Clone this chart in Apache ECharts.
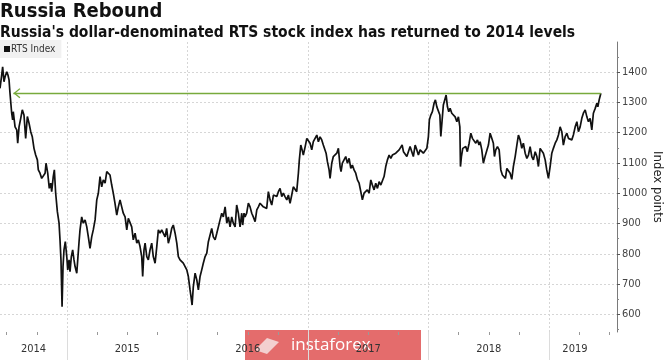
<!DOCTYPE html>
<html><head><meta charset="utf-8">
<script src="https://cdn.jsdelivr.net/npm/echarts@6/dist/echarts.min.js"></script>
<style>html,body{margin:0;padding:0;background:#fff}#c{width:665px;height:360px}</style>
</head><body><div id="c"></div>
<script>
// RTS Index, [decimal year, index points]
const rts2014 = [[2014.444,1346],[2014.458,1390],[2014.466,1417],[2014.477,1368],[2014.486,1384],[2014.500,1401],[2014.510,1390],[2014.519,1374],[2014.527,1330],[2014.541,1264],[2014.549,1242],[2014.554,1269],[2014.569,1219],[2014.583,1209],[2014.591,1165],[2014.602,1219],[2014.616,1247],[2014.629,1275],[2014.643,1258],[2014.657,1181],[2014.671,1253],[2014.685,1231],[2014.699,1203],[2014.712,1186],[2014.726,1148],[2014.740,1126],[2014.754,1110],[2014.762,1077],[2014.776,1066],[2014.790,1049],[2014.803,1044],[2014.818,1066],[2014.826,1099],[2014.840,1066],[2014.853,1016],[2014.865,1033],[2014.873,1005],[2014.886,1055],[2014.895,1077],[2014.906,1000],[2014.920,939],[2014.934,901],[2014.942,846],[2014.950,780],[2014.959,625],[2014.967,758],[2014.975,813],[2014.986,840],[2014.998,791]];
const rts2015 = [[2015.006,747],[2015.017,780],[2015.025,741],[2015.036,791],[2015.047,813],[2015.058,780],[2015.067,758],[2015.081,736],[2015.089,780],[2015.100,840],[2015.108,879],[2015.122,922],[2015.135,901],[2015.150,912],[2015.164,889],[2015.177,856],[2015.191,818],[2015.205,856],[2015.218,879],[2015.233,912],[2015.247,978],[2015.260,1000],[2015.274,1055],[2015.288,1021],[2015.301,1044],[2015.316,1033],[2015.330,1071],[2015.343,1077],[2015.357,1060],[2015.371,1027],[2015.384,1000],[2015.398,967],[2015.413,928],[2015.426,955],[2015.440,978],[2015.454,955],[2015.467,934],[2015.482,922],[2015.496,879],[2015.509,917],[2015.523,912],[2015.537,889],[2015.550,846],[2015.565,868],[2015.579,835],[2015.592,846],[2015.606,824],[2015.620,791],[2015.628,725],[2015.639,813],[2015.648,835],[2015.662,791],[2015.675,780],[2015.689,813],[2015.703,835],[2015.716,791],[2015.731,769],[2015.745,824],[2015.758,879],[2015.772,868],[2015.786,879],[2015.799,868],[2015.814,856],[2015.827,884],[2015.841,835],[2015.855,856],[2015.869,884],[2015.882,895],[2015.897,868],[2015.911,835],[2015.924,791],[2015.938,780],[2015.952,785],[2015.965,769],[2015.980,758],[2015.994,747]];
const rts2016 = [[2016.007,725],[2016.021,681],[2016.029,659],[2016.038,631],[2016.048,691],[2016.063,736],[2016.077,714],[2016.090,681],[2016.104,725],[2016.118,747],[2016.131,769],[2016.146,791],[2016.160,802],[2016.173,840],[2016.187,846],[2016.201,884],[2016.214,856],[2016.229,846],[2016.243,868],[2016.256,889],[2016.270,912],[2016.284,934],[2016.297,922],[2016.312,955],[2016.326,901],[2016.339,922],[2016.353,889],[2016.367,922],[2016.380,901],[2016.395,889],[2016.408,961],[2016.422,934],[2016.436,889],[2016.450,934],[2016.458,895],[2016.469,934],[2016.477,922],[2016.491,934],[2016.505,967],[2016.519,955],[2016.533,934],[2016.546,922],[2016.561,906],[2016.575,945],[2016.588,955],[2016.602,967],[2016.616,972],[2016.629,955],[2016.644,961],[2016.657,950],[2016.671,1005],[2016.685,978],[2016.699,961],[2016.713,994],[2016.727,1000],[2016.741,989],[2016.754,1005],[2016.768,1016],[2016.782,989],[2016.795,1000],[2016.809,989],[2016.824,978],[2016.837,994],[2016.851,967],[2016.865,994],[2016.878,1021],[2016.893,1027],[2016.906,1005],[2016.920,1066],[2016.928,1110],[2016.940,1159],[2016.951,1143],[2016.961,1126],[2016.976,1153],[2016.990,1181]];
const rts2017 = [[2017.003,1176],[2017.017,1165],[2017.031,1143],[2017.044,1170],[2017.059,1165],[2017.073,1192],[2017.086,1170],[2017.100,1186],[2017.114,1176],[2017.127,1159],[2017.142,1153],[2017.150,1132],[2017.161,1104],[2017.175,1077],[2017.183,1049],[2017.197,1099],[2017.210,1121],[2017.225,1115],[2017.239,1132],[2017.252,1148],[2017.266,1088],[2017.274,1071],[2017.285,1099],[2017.299,1110],[2017.313,1121],[2017.327,1099],[2017.341,1115],[2017.355,1082],[2017.368,1093],[2017.382,1077],[2017.396,1066],[2017.410,1044],[2017.424,1033],[2017.438,1005],[2017.451,978],[2017.465,1000],[2017.479,994],[2017.492,1011],[2017.507,1000],[2017.521,1044],[2017.534,1027],[2017.548,1011],[2017.562,1033],[2017.576,1016],[2017.590,1038],[2017.604,1027],[2017.617,1033],[2017.631,1055],[2017.645,1088],[2017.659,1110],[2017.673,1126],[2017.687,1115],[2017.700,1126],[2017.714,1121],[2017.728,1132],[2017.742,1137],[2017.756,1143],[2017.770,1148],[2017.781,1159],[2017.792,1137],[2017.806,1132],[2017.820,1121],[2017.833,1115],[2017.847,1154],[2017.861,1137],[2017.874,1121],[2017.889,1159],[2017.903,1143],[2017.916,1126],[2017.930,1143],[2017.944,1148],[2017.957,1132],[2017.972,1126],[2017.986,1148],[2017.999,1187]];
const rts2018 = [[2018.007,1242],[2018.019,1258],[2018.032,1269],[2018.046,1297],[2018.057,1308],[2018.069,1285],[2018.082,1291],[2018.094,1258],[2018.102,1187],[2018.113,1242],[2018.123,1291],[2018.137,1297],[2018.146,1324],[2018.157,1285],[2018.168,1269],[2018.179,1280],[2018.193,1264],[2018.206,1269],[2018.221,1252],[2018.235,1236],[2018.248,1252],[2018.260,1219],[2018.265,1088],[2018.273,1121],[2018.284,1148],[2018.295,1143],[2018.309,1154],[2018.322,1137],[2018.337,1165],[2018.351,1198],[2018.364,1181],[2018.378,1176],[2018.392,1165],[2018.406,1176],[2018.419,1159],[2018.428,1170],[2018.442,1143],[2018.455,1099],[2018.469,1121],[2018.484,1126],[2018.497,1159],[2018.511,1198],[2018.525,1181],[2018.538,1165],[2018.547,1121],[2018.558,1143],[2018.572,1154],[2018.586,1143],[2018.600,1077],[2018.613,1060],[2018.627,1066],[2018.638,1049],[2018.650,1082],[2018.663,1088],[2018.677,1066],[2018.691,1046],[2018.704,1088],[2018.719,1121],[2018.733,1159],[2018.746,1192],[2018.760,1176],[2018.774,1148],[2018.787,1165],[2018.802,1132],[2018.816,1115],[2018.829,1126],[2018.843,1154],[2018.857,1121],[2018.870,1110],[2018.885,1137],[2018.899,1121],[2018.912,1088],[2018.926,1148],[2018.940,1154],[2018.953,1132],[2018.968,1110],[2018.981,1077],[2018.995,1049]];
const rts2019 = [[2019.009,1088],[2019.023,1132],[2019.036,1148],[2019.051,1165],[2019.065,1176],[2019.078,1192],[2019.092,1219],[2019.106,1203],[2019.119,1159],[2019.134,1187],[2019.148,1198],[2019.161,1181],[2019.175,1187],[2019.189,1176],[2019.202,1192],[2019.217,1219],[2019.231,1236],[2019.244,1203],[2019.258,1219],[2019.272,1247],[2019.285,1264],[2019.300,1275],[2019.314,1252],[2019.327,1236],[2019.341,1247],[2019.355,1209],[2019.368,1264],[2019.383,1280],[2019.397,1297],[2019.405,1285],[2019.416,1308],[2019.430,1330]];

const yTickValues = [600, 700, 800, 900, 1000, 1100, 1200, 1300, 1400];
const yMinorValues = [550, 650, 750, 850, 950, 1050, 1150, 1250, 1350, 1450];
const yearLabels = [2014, 2015, 2016, 2017, 2018, 2019];
const yearStarts = [2015, 2016, 2017, 2018, 2019];
const quarterMarks = [2014.5, 2014.75, 2015.25, 2015.5, 2015.75, 2016.25, 2016.5, 2016.75, 2017.25, 2017.5, 2017.75, 2018.25, 2018.5, 2018.75, 2019.25, 2019.5];
const xMin = 2014.444, xMax = 2019.564;
const yMin = 542, yMax = 1499;
const arrowFrom = 2014.555;

const rts = [].concat(rts2014, rts2015, rts2016, rts2017, rts2018, rts2019);
const last = rts[rts.length - 1];
const labelPos = yearLabels.map(y => (Math.max(y, xMin) + Math.min(y + 1, last[0])) / 2);

const FONT = '"DejaVu Sans Condensed", "DejaVu Sans", sans-serif';
const chevron = 'path://M0,0 M14,0 M7,7 L12,13.1 L11.1,14 L7,9.1 L2.9,14 L2,13.1 Z';

const chart = echarts.init(document.getElementById('c'), null, {renderer: 'canvas'});
chart.setOption({
  animation: false,
  backgroundColor: '#fff',
  title: [
    {text: 'Russia Rebound', left: 0, top: 2, padding: 0,
     textStyle: {fontFamily: FONT, fontWeight: 'bold', fontSize: 20, color: '#111'}},
    {text: "Russia's dollar-denominated RTS stock index has returned to 2014 levels", left: 0, top: 25, padding: 0,
     textStyle: {fontFamily: FONT, fontWeight: 'bold', fontSize: 15.5, color: '#111'}}
  ],
  legend: {
    left: 0, top: 40, icon: 'rect', itemWidth: 6, itemHeight: 6, itemGap: 4,
    backgroundColor: '#f1f1f1', padding: [4, 6, 4, 4],
    textStyle: {fontFamily: FONT, fontSize: 10, color: '#333', padding: [0, 0, 0, -4]},
    data: ['RTS Index']
  },
  grid: {left: 0, right: 48, top: 42, bottom: 28, containLabel: false, outerBoundsMode: 'none'},
  xAxis: [
    {type: 'value', min: xMin, max: xMax, position: 'bottom',
     axisLine: {show: false},
     axisTick: {show: true, customValues: yearStarts, length: 28, lineStyle: {color: '#dcdcdc', width: 1}},
     axisLabel: {customValues: labelPos, formatter: v => String(Math.floor(v + 1e-6)), margin: 12,
                 fontFamily: FONT, fontSize: 11, color: '#333'},
     splitLine: {show: true, lineStyle: {type: [2, 2], color: '#d6d6d6', width: 1}}},
    {type: 'value', min: xMin, max: xMax, position: 'bottom',
     axisLine: {show: false},
     axisTick: {show: true, customValues: quarterMarks, length: 3, lineStyle: {color: '#999'}},
     axisLabel: {show: false}, splitLine: {show: false}}
  ],
  yAxis: [
    {type: 'value', min: yMin, max: yMax, position: 'right',
     name: 'Index points', nameLocation: 'middle', nameRotate: -90, nameGap: 34, nameMoveOverlap: false,
     nameTextStyle: {fontFamily: FONT, fontSize: 13, color: '#222'},
     axisLine: {show: true, lineStyle: {color: '#7a7a7a', width: 1}},
     axisTick: {show: true, customValues: yTickValues, length: 3, lineStyle: {color: '#555'}},
     axisLabel: {customValues: yTickValues, formatter: v => String(v), margin: 5, fontFamily: FONT, fontSize: 11, color: '#444'},
     splitLine: {show: true, lineStyle: {type: [2, 2], color: '#d6d6d6', width: 1}}},
    {type: 'value', min: yMin, max: yMax, position: 'right',
     axisLine: {show: false},
     axisTick: {show: true, customValues: yMinorValues, length: 2, lineStyle: {color: '#888'}},
     axisLabel: {show: false}, splitLine: {show: false}}
  ],
  series: [{
    name: 'RTS Index', type: 'line', data: rts, showSymbol: false, symbol: 'none',
    xAxisIndex: 0, yAxisIndex: 0,
    lineStyle: {color: '#111', width: 1.7}, itemStyle: {color: '#111'},
    z: 3,
    markLine: {
      silent: true, symbol: [chevron, 'none'], symbolSize: 14, label: {show: false},
      lineStyle: {color: '#78aa3c', width: 1.3, type: 'solid'},
      data: [[{coord: [arrowFrom, last[1]]}, {coord: [last[0], last[1]]}]]
    }
  }],
  graphic: [{
    type: 'group', left: 245, top: 330, z: 100,
    children: [
      {type: 'rect', shape: {x: 0, y: 0, width: 176, height: 30}, style: {fill: '#e46c6c'}},
      {type: 'polygon', shape: {points: [[10, 20], [22, 8], [34, 12], [22, 24]]}, style: {fill: '#f3d0d0'}},
      {type: 'text', x: 46, y: 15, style: {text: 'instaforex', fill: '#fff', font: '17px "Open Sans", sans-serif', textVerticalAlign: 'middle'}}
    ]
  }]
});
</script></body></html>
